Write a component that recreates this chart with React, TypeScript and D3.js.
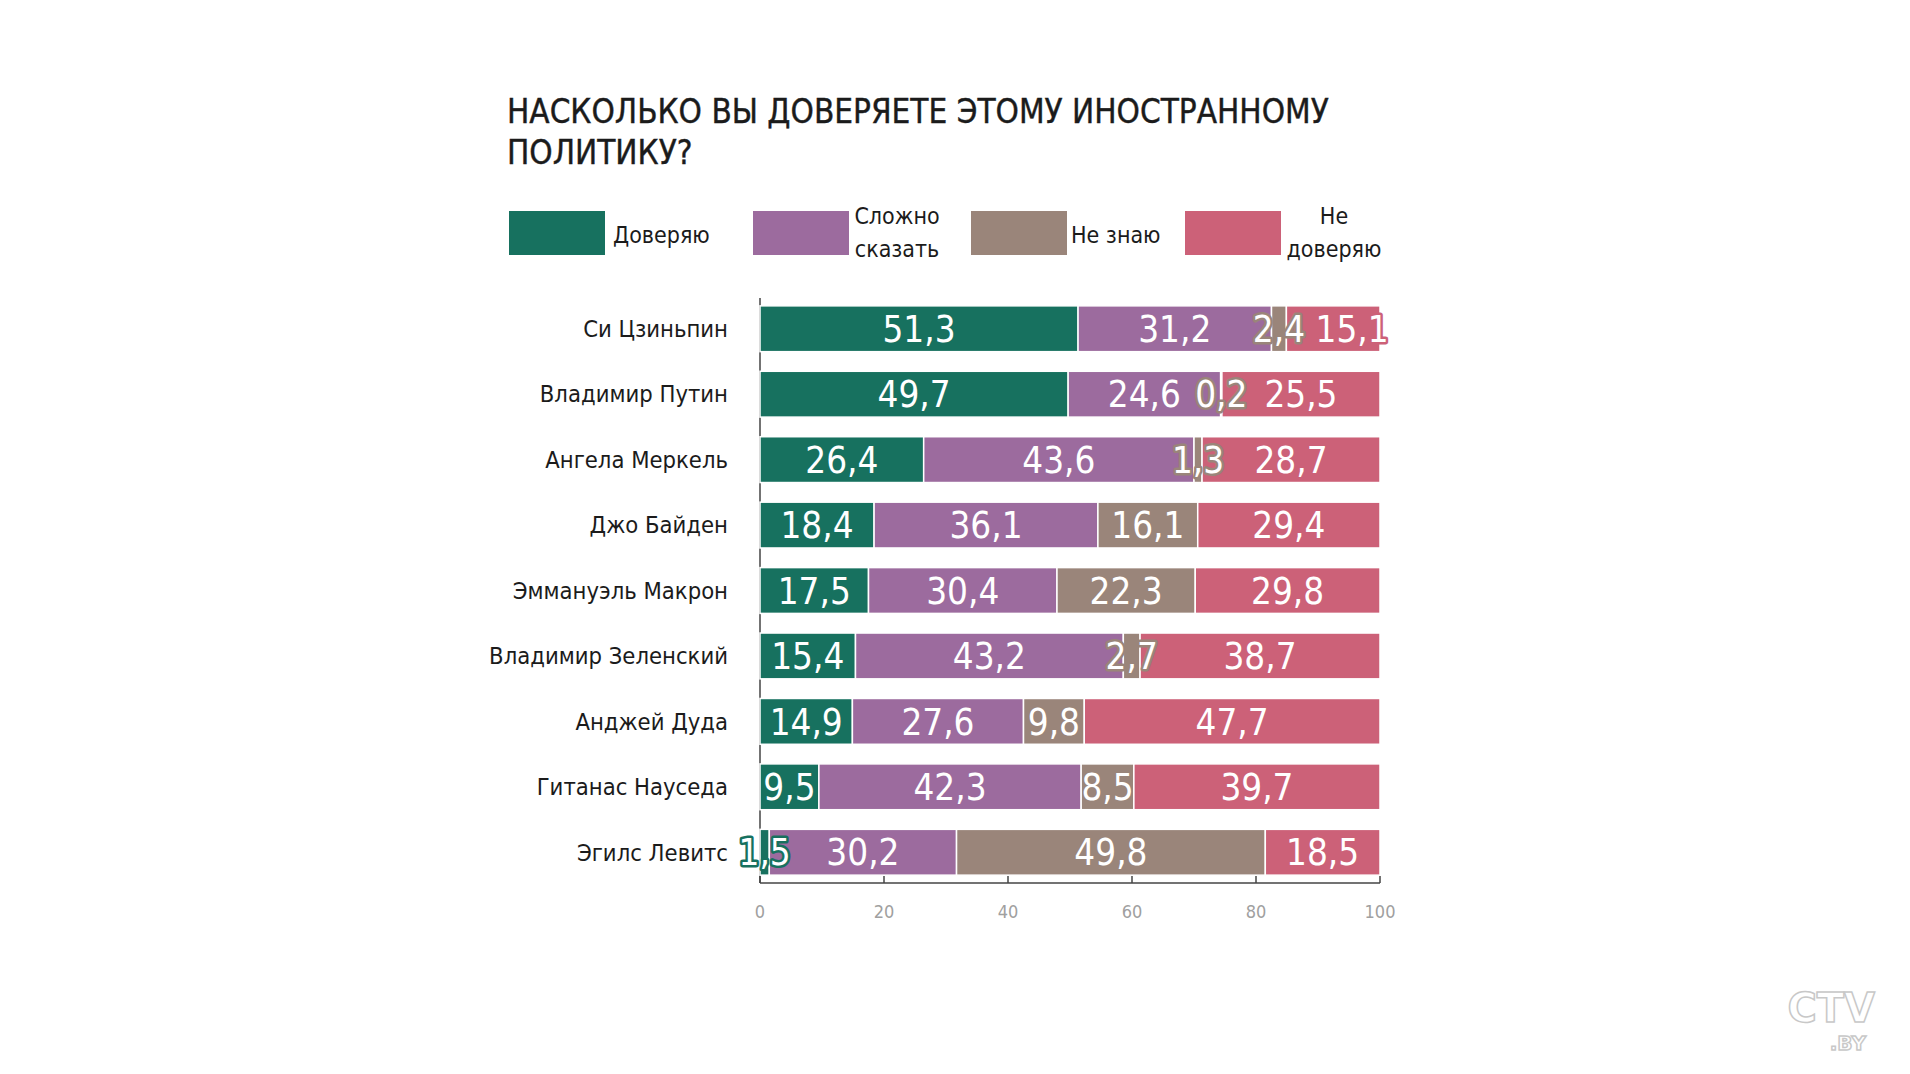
import { useRef, useEffect } from "react";
import * as d3 from "d3";

const politicians = [
  "Си Цзиньпин",
  "Владимир Путин",
  "Ангела Меркель",
  "Джо Байден",
  "Эммануэль Макрон",
  "Владимир Зеленский",
  "Анджей Дуда",
  "Гитанас Науседа",
  "Эгилс Левитс",
];

const trust = [51.3, 49.7, 26.4, 18.4, 17.5, 15.4, 14.9, 9.5, 1.5];
const hardToSay = [31.2, 24.6, 43.6, 36.1, 30.4, 43.2, 27.6, 42.3, 30.2];
const dontKnow = [2.4, 0.2, 1.3, 16.1, 22.3, 2.7, 9.8, 8.5, 49.8];
const distrust = [15.1, 25.5, 28.7, 29.4, 29.8, 38.7, 47.7, 39.7, 18.5];

const seriesKeys = ["trust", "hard", "dunno", "distrust"];
const seriesLabels = [["Доверяю"], ["Сложно", "сказать"], ["Не знаю"], ["Не", "доверяю"]];
const seriesColors = ["#17715f", "#9c6b9e", "#9a857a", "#cc6178"];
const xTicks = [0, 20, 40, 60, 80, 100];

const W = 1910;
const H = 1074;
const FONT = "'DejaVu Sans Condensed', 'Liberation Sans Narrow', 'Roboto', sans-serif";

function drawChart(svgEl: SVGSVGElement) {
  const svg = d3.select(svgEl);
  svg.selectAll("*").remove();

  const left = 760, right = 1380, top = 298, bottom = 883;

  const x = d3.scaleLinear().domain([0, 100]).range([left, right]);
  const y = d3.scaleBand().domain(politicians).range([top, bottom]).paddingInner(0.3).paddingOuter(0.12);

  const rows = politicians.map((name, i) => ({
    name,
    trust: trust[i],
    hard: hardToSay[i],
    dunno: dontKnow[i],
    distrust: distrust[i],
  }));
  const stacked = d3.stack<any>().keys(seriesKeys)(rows);

  // title
  const title = svg.append("g").attr("font-family", FONT).attr("fill", "#1b1b1b");
  title.append("text").attr("x", 507).attr("y", 123).attr("font-size", 33)
    .attr("stroke", "#1b1b1b").attr("stroke-width", 0.4)
    .text("НАСКОЛЬКО ВЫ ДОВЕРЯЕТЕ ЭТОМУ ИНОСТРАННОМУ");
  title.append("text").attr("x", 507).attr("y", 164).attr("font-size", 33)
    .attr("stroke", "#1b1b1b").attr("stroke-width", 0.4)
    .text("ПОЛИТИКУ?");

  // legend
  const legendX = [509, 753, 971, 1185];
  const legendText = [
    { x: 613, anchor: "start" },
    { x: 897, anchor: "middle" },
    { x: 1071, anchor: "start" },
    { x: 1334, anchor: "middle" },
  ];
  const legend = svg.append("g").attr("font-family", FONT).attr("font-size", 23).attr("fill", "#1b1b1b");
  seriesColors.forEach((c, i) => {
    legend.append("rect").attr("x", legendX[i]).attr("y", 211).attr("width", 96).attr("height", 44).attr("fill", c);
    const lines = seriesLabels[i];
    const t = legend.append("text").attr("text-anchor", legendText[i].anchor);
    lines.forEach((ln, j) => {
      const cy = lines.length === 1 ? 235 : (j === 0 ? 216 : 249);
      t.append("tspan").attr("x", legendText[i].x).attr("y", cy).attr("dy", "0.35em").text(ln);
    });
  });

  // axes lines
  svg.append("line").attr("x1", left).attr("x2", left).attr("y1", top).attr("y2", bottom)
    .attr("stroke", "#444").attr("stroke-width", 1.5);
  svg.append("line").attr("x1", left).attr("x2", right).attr("y1", bottom).attr("y2", bottom)
    .attr("stroke", "#444").attr("stroke-width", 1.5);
  svg.append("g").selectAll("line").data(xTicks).join("line")
    .attr("x1", d => x(d)).attr("x2", d => x(d)).attr("y1", bottom).attr("y2", bottom - 7)
    .attr("stroke", "#444").attr("stroke-width", 1.5);
  svg.append("g").attr("font-family", FONT).attr("font-size", 18).attr("fill", "#a0a0a0")
    .selectAll("text").data(xTicks).join("text")
    .attr("x", d => x(d)).attr("y", 912).attr("dy", "0.35em").attr("text-anchor", "middle")
    .text(d => d);

  // category labels
  svg.append("g").attr("font-family", FONT).attr("font-size", 23.6).attr("fill", "#1b1b1b")
    .selectAll("text").data(politicians).join("text")
    .attr("x", 728).attr("y", d => y(d)! + y.bandwidth() / 2).attr("dy", "0.35em")
    .attr("text-anchor", "end").text(d => d);

  // bars
  stacked.forEach((s, si) => {
    svg.append("g").selectAll("rect").data(s).join("rect")
      .attr("x", d => x(d[0]))
      .attr("y", d => y(d.data.name)!)
      .attr("width", d => Math.max(0, x(d[1]) - x(d[0])))
      .attr("height", y.bandwidth())
      .attr("fill", seriesColors[si])
      .attr("stroke", "#fff").attr("stroke-width", 1.5);
  });

  // value labels (outlined when they don't fit inside their segment)
  const fs = 36.5;
  const textW = (s: string) => fs * (0.55 * s.replace(",", "").length + 0.3);
  const lab = svg.append("g").attr("font-family", FONT).attr("font-size", fs).attr("fill", "#fff");
  politicians.forEach((name, ri) => {
    let prevRight = -Infinity;
    stacked.forEach((s, si) => {
      const d = s[ri];
      const v = d[1] - d[0];
      const txt = d3.format(".1f")(v).replace(".", ",");
      const w = textW(txt);
      const x0 = x(d[0]), x1 = x(d[1]);
      let cx = (x0 + x1) / 2;
      if (cx - w / 2 < prevRight + 12) cx = prevRight + 12 + w / 2;
      prevRight = cx + w / 2;
      const t = lab.append("text")
        .attr("x", cx).attr("y", y(name)! + y.bandwidth() / 2).attr("dy", "0.36em")
        .attr("text-anchor", "middle").text(txt);
      if (w > x1 - x0 || cx + w / 2 > x1 + 2) {
        t.attr("stroke", seriesColors[si]).attr("stroke-width", 5)
          .attr("stroke-linejoin", "round").attr("paint-order", "stroke");
      }
    });
  });

  // watermark
  const logo = svg.append("g").attr("font-family", "'DejaVu Sans', sans-serif").attr("font-weight", "bold")
    .attr("fill", "#fff").attr("stroke", "#c8c8c8").attr("stroke-width", 1.5).attr("text-anchor", "end");
  logo.append("text").attr("x", 1875).attr("y", 1022).attr("font-size", 40).text("CTV");
  logo.append("text").attr("x", 1866).attr("y", 1050).attr("font-size", 20).text(".BY");
}

export default function App() {
  const ref = useRef<SVGSVGElement>(null);

  useEffect(() => {
    if (ref.current) drawChart(ref.current);
  }, []);

  return (
    <svg ref={ref} width={W} height={H}
      style={{ position: "absolute", left: 0, top: 0, background: "#fff" }} />
  );
}
